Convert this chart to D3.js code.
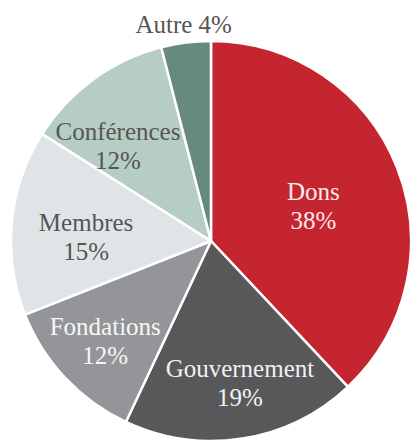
<!DOCTYPE html>
<html>
<head>
<meta charset="utf-8">
<script src="https://cdn.jsdelivr.net/npm/d3@7"></script>
<style>
  html, body { margin: 0; padding: 0; background: #fff; }
  svg { display: block; }
</style>
</head>
<body>
<div id="chart"></div>
<script>
const categories = ['Dons', 'Gouvernement', 'Fondations', 'Membres', 'Conférences', 'Autre']
const shares = [38, 19, 12, 15, 12, 4]

const colors = ['#c5252f', '#58585a', '#939598', '#dfe5e7', '#b6cdc3', '#668a7e']
const labelColors = ['#fbeaea', '#f2f2f2', '#f7f7f7', '#555555', '#555555', '#555555']
// label placement: distance as a fraction of the radius, and a small angular nudge (degrees)
const labelRadius = [0.54, 0.725, 0.73, 0.625, 0.665, 1.09]
const labelShift = [3, -2.5, -0.4, -3.6, -8.4, 0]

const width = 411
const height = 440
const cx = 211
const cy = 241
const radius = 200
const serif = "'Liberation Serif', 'Times New Roman', serif"

const svg = d3.select('#chart')
  .append('svg')
  .attr('width', width)
  .attr('height', height)

const g = svg.append('g')
  .attr('transform', `translate(${cx},${cy})`)

const data = categories.map((name, i) => ({ name, value: shares[i], i }))

const pie = d3.pie()
  .value(d => d.value)
  .sort(null)

const arc = d3.arc()
  .innerRadius(0)
  .outerRadius(radius)

const arcs = pie(data)

g.selectAll('path.slice')
  .data(arcs)
  .join('path')
  .attr('class', 'slice')
  .attr('d', arc)
  .attr('fill', d => colors[d.data.i])
  .attr('stroke', '#fff')
  .attr('stroke-width', 2.5)
  .attr('stroke-linejoin', 'round')

const labels = g.selectAll('text.label')
  .data(arcs)
  .join('text')
  .attr('class', 'label')
  .attr('text-anchor', 'middle')
  .attr('font-family', serif)
  .style('font-family', serif)
  .attr('font-size', 25)
  .attr('fill', d => labelColors[d.data.i])
  .attr('transform', d => {
    const i = d.data.i
    const a = (d.startAngle + d.endAngle) / 2 + labelShift[i] * Math.PI / 180
    const r = radius * labelRadius[i]
    return `translate(${r * Math.sin(a)},${-r * Math.cos(a)})`
  })

labels.each(function (d) {
  const t = d3.select(this)
  if (d.data.name === 'Autre') {
    t.append('tspan')
      .attr('x', 0)
      .attr('dy', '0.33em')
      .text(`${d.data.name} ${d.data.value}%`)
  } else {
    t.append('tspan')
      .attr('x', 0)
      .attr('dy', '-0.25em')
      .text(d.data.name)
    t.append('tspan')
      .attr('x', 0)
      .attr('dy', '1.16em')
      .text(`${d.data.value}%`)
  }
})
</script>
</body>
</html>
